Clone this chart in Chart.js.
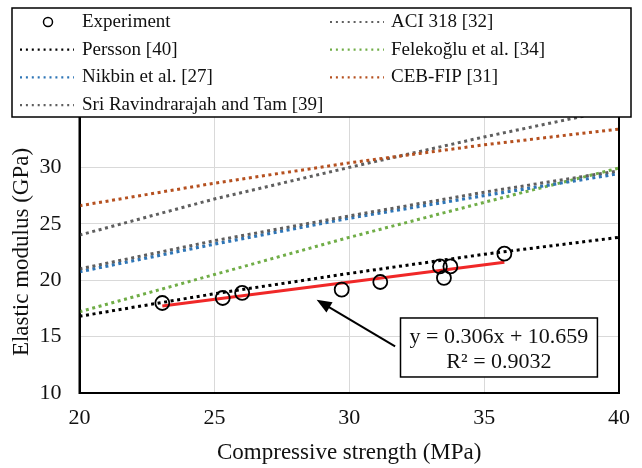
<!DOCTYPE html>
<html>
<head>
<meta charset="utf-8">
<script src="https://cdn.jsdelivr.net/npm/chart.js@4.4.1/dist/chart.umd.min.js"></script>
<style>
  body { margin: 0; background: #fff; }
</style>
</head>
<body>
<canvas id="grafico" width="642" height="468"></canvas>
<script>
// experimental points
const fcExp = [23.07, 25.31, 26.03, 29.72, 31.15, 33.36, 33.75, 33.51, 35.75];
const eExp = [17.98, 18.42, 18.87, 19.16, 19.84, 21.22, 21.22, 20.2, 22.35];

// linear fit of the experiment
const trendX = [23.07, 35.75];
const trendY = [17.72, 21.6];

// model curves, read at these strengths
const fcModel = [20, 25, 30, 35, 40];
const persson = [16.8, 18.8, 20.6, 22.3, 23.8];
const aci318 = [21.0, 23.5, 25.7, 27.8, 29.7];
const felekoglu = [17.2, 20.5, 23.8, 26.9, 29.95];
const nikbin = [20.75, 23.2, 25.5, 27.5, 29.45];
const cebFip = [26.6, 28.6, 30.4, 32.0, 33.4];
const sriTam = [24.0, 27.2, 30.0, 32.7, 35.2];

const xTicks = [20, 25, 30, 35, 40];
const yTicks = [10, 15, 20, 25, 30];

const fitText = ['y = 0.306x + 10.659', 'R\u00B2 = 0.9032'];

const serif = "'Liberation Serif', 'Times New Roman', serif";

function pares(xs, ys) {
  return xs.map(function (v, i) { return { x: v, y: ys[i] }; });
}

function linhaModelo(nome, valores, cor, largura) {
  return {
    label: nome,
    data: pares(fcModel, valores),
    showLine: true,
    borderColor: cor,
    backgroundColor: cor,
    borderWidth: largura,
    borderDash: [3, 3.6],
    pointRadius: 0,
    fill: false,
  };
}

const datasets = [
  {
    label: 'Experiment',
    data: pares(fcExp, eExp),
    pointStyle: 'circle',
    pointRadius: 7,
    borderColor: '#000',
    backgroundColor: 'rgba(255,255,255,0)',
    borderWidth: 1.8,
    showLine: false,
  },
  {
    label: 'trend',
    data: pares(trendX, trendY),
    showLine: true,
    borderColor: 'rgb(240,40,40)',
    borderWidth: 3,
    pointRadius: 0,
  },
  linhaModelo('Persson [40]', persson, '#000000', 3),
  linhaModelo('ACI 318 [32]', aci318, '#5f5f5f', 3),
  linhaModelo('Nikbin et al. [27]', nikbin, '#2e75b6', 3.2),
  linhaModelo('Felekoğlu et al. [34]', felekoglu, '#70ad47', 3),
  linhaModelo('CEB-FIP [31]', cebFip, '#b5501f', 3),
  linhaModelo('Sri Ravindrarajah and Tam [39]', sriTam, '#5f5f5f', 3),
];

// legend layout: [dataset index, column, row]
const legendaItens = [
  [0, 0, 0], [2, 0, 1], [4, 0, 2], [7, 0, 3],
  [3, 1, 0], [5, 1, 1], [6, 1, 2],
];

const extras = {
  id: 'extras',
  afterDraw: function (chart) {
    const ctx = chart.ctx;
    const a = chart.chartArea;
    const sx = chart.scales.x;
    const sy = chart.scales.y;
    ctx.save();

    // plot frame
    ctx.strokeStyle = '#000';
    ctx.lineWidth = 2;
    ctx.strokeRect(a.left, a.top, a.right - a.left, a.bottom - a.top);

    // arrow to the fit line
    const x0 = sx.getPixelForValue(31.7), y0 = sy.getPixelForValue(14.13);
    const x1 = sx.getPixelForValue(28.79), y1 = sy.getPixelForValue(18.27);
    const ang = Math.atan2(y1 - y0, x1 - x0);
    ctx.lineWidth = 2;
    ctx.beginPath();
    ctx.moveTo(x0, y0);
    ctx.lineTo(x1 - 10 * Math.cos(ang), y1 - 10 * Math.sin(ang));
    ctx.stroke();
    ctx.fillStyle = '#000';
    ctx.beginPath();
    ctx.moveTo(x1, y1);
    ctx.lineTo(x1 - 15 * Math.cos(ang) + 6 * Math.sin(ang), y1 - 15 * Math.sin(ang) - 6 * Math.cos(ang));
    ctx.lineTo(x1 - 15 * Math.cos(ang) - 6 * Math.sin(ang), y1 - 15 * Math.sin(ang) + 6 * Math.cos(ang));
    ctx.closePath();
    ctx.fill();

    // equation box
    const bl = sx.getPixelForValue(31.9), br = sx.getPixelForValue(39.2);
    const bt = sy.getPixelForValue(16.65), bb = sy.getPixelForValue(11.42);
    ctx.fillStyle = '#fff';
    ctx.fillRect(bl, bt, br - bl, bb - bt);
    ctx.lineWidth = 1.5;
    ctx.strokeRect(bl, bt, br - bl, bb - bt);
    ctx.fillStyle = '#111';
    ctx.font = '22px ' + serif;
    ctx.textAlign = 'center';
    ctx.textBaseline = 'middle';
    ctx.fillText(fitText[0], (bl + br) / 2, bt + 19);
    ctx.fillText(fitText[1], (bl + br) / 2, bt + 44);

    // legend box on top of the plot
    ctx.fillStyle = '#fff';
    ctx.fillRect(12, 8, 619, 109);
    ctx.strokeStyle = '#000';
    ctx.lineWidth = 1.5;
    ctx.strokeRect(12, 8, 619, 109);
    ctx.font = '19px ' + serif;
    ctx.textAlign = 'left';
    legendaItens.forEach(function (it) {
      const ds = chart.data.datasets[it[0]];
      const lx = it[1] === 0 ? 20 : 330;
      const tx = it[1] === 0 ? 82 : 391;
      const ly = 22 + it[2] * 27.7;
      if (it[0] === 0) {
        ctx.strokeStyle = '#000';
        ctx.lineWidth = 1.5;
        ctx.setLineDash([]);
        ctx.beginPath();
        ctx.arc(48, ly, 4.5, 0, Math.PI * 2);
        ctx.stroke();
      } else {
        ctx.strokeStyle = ds.borderColor;
        ctx.lineWidth = 2.2;
        ctx.setLineDash([2, 3.9]);
        ctx.beginPath();
        ctx.moveTo(lx, ly);
        ctx.lineTo(lx + 54, ly);
        ctx.stroke();
        ctx.setLineDash([]);
      }
      ctx.fillStyle = '#111';
      ctx.fillText(ds.label, tx, ly);
    });
    ctx.restore();
  },
};

var ctx = document.getElementById('grafico').getContext('2d');
var myChart = new Chart(ctx, {
  type: 'scatter',
  data: { datasets: datasets },
  options: {
    responsive: false,
    animation: false,
    layout: { padding: { top: 111, right: 11, left: 0, bottom: 0 } },
    plugins: {
      legend: { display: false },
      tooltip: { enabled: false },
    },
    scales: {
      x: {
        type: 'linear',
        min: 20,
        max: 40,
        afterBuildTicks: function (s) { s.ticks = xTicks.map(function (v) { return { value: v }; }); },
        ticks: { color: '#111', font: { family: serif, size: 22 }, padding: 12 },
        grid: { color: '#d9d9d9', drawTicks: false },
        border: { color: '#000', width: 2 },
        title: {
          display: true,
          text: 'Compressive strength (MPa)',
          color: '#111',
          font: { family: serif, size: 23 },
          padding: { top: 0, bottom: 1 },
        },
        afterFit: function (s) { s.height = 75; },
      },
      y: {
        min: 10,
        max: 35,
        afterBuildTicks: function (s) { s.ticks = yTicks.concat([35]).map(function (v) { return { value: v }; }); },
        ticks: {
          color: '#111',
          font: { family: serif, size: 22 },
          padding: 18,
          callback: function (v) { return yTicks.indexOf(v) >= 0 ? String(v) : ''; },
        },
        grid: { color: '#d9d9d9', drawTicks: false },
        border: { color: '#000', width: 2 },
        title: {
          display: true,
          text: 'Elastic modulus (GPa)',
          color: '#111',
          font: { family: serif, size: 23 },
          padding: { top: 8, bottom: 0 },
        },
        afterFit: function (s) { s.width = 79.5; },
      },
    },
  },
  plugins: [extras],
});
</script>
</body>
</html>
